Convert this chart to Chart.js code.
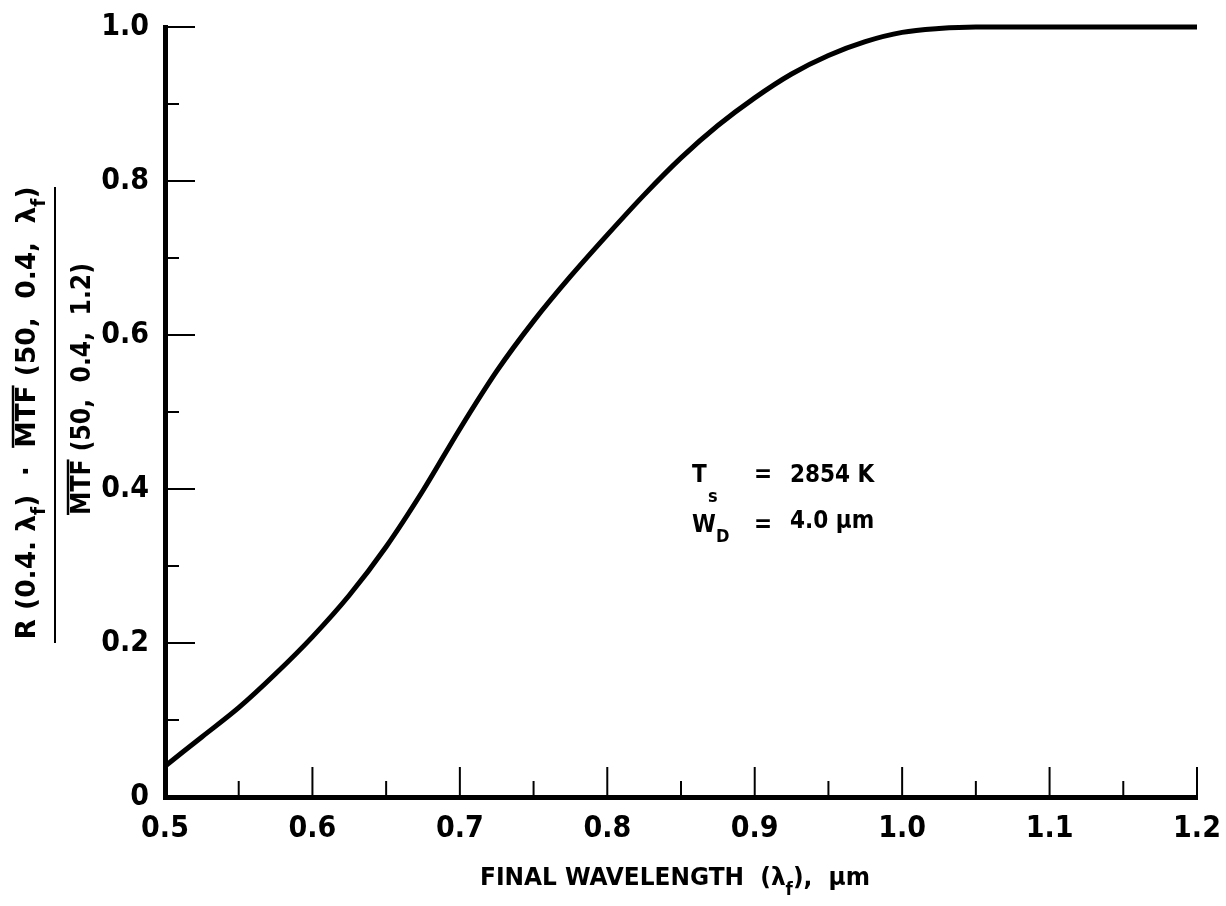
<!DOCTYPE html>
<html>
<head>
<meta charset="utf-8">
<script src="https://cdn.jsdelivr.net/npm/chart.js@4/dist/chart.umd.min.js"></script>
<style>
  html, body { margin: 0; padding: 0; background: #fff; }
  #wrap { width: 1226px; height: 906px; }
</style>
</head>
<body>
<div id="wrap"><canvas id="mtfChart" width="1226" height="906"></canvas></div>
<script>
// values
const wavelength = [0.5, 0.525, 0.55, 0.575, 0.6, 0.625, 0.65, 0.675, 0.7, 0.725, 0.75, 0.775, 0.8,
                    0.825, 0.85, 0.875, 0.9, 0.925, 0.95, 0.975, 1.0, 1.025, 1.05, 1.1, 1.15, 1.2];
const ratio = [0.040, 0.078, 0.116, 0.160, 0.208, 0.262, 0.325, 0.398, 0.478, 0.553, 0.618, 0.676, 0.730,
               0.782, 0.830, 0.872, 0.908, 0.939, 0.963, 0.981, 0.993, 0.998, 1.0, 1.0, 1.0, 1.0];

const xTickLabels = ['0.5', '0.6', '0.7', '0.8', '0.9', '1.0', '1.1', '1.2'];
const yTickLabels = ['0', '0.2', '0.4', '0.6', '0.8', '1.0'];

const FONT = "'Liberation Sans Narrow', 'DejaVu Sans Condensed', 'Roboto Condensed', sans-serif";

function findLabel(list, v) {
    const hit = list.find(l => Math.abs(parseFloat(l) - v) < 1e-6);
    return hit === undefined ? '' : hit;
}

// draw a run of text pieces (subscripts / overlines) centred at 0, stretched to targetLen
function drawRuns(ctx, runs, size, targetLen) {
    const subSize = Math.round(size * 0.72);
    let total = 0;
    runs.forEach(r => {
        ctx.font = 'bold ' + (r.sub ? subSize : size) + 'px ' + FONT;
        r.w = ctx.measureText(r.t).width;
        total += r.w;
    });
    const s = targetLen / total;
    ctx.save();
    ctx.scale(s, 1);
    let x = -total / 2;
    ctx.textBaseline = 'alphabetic';
    ctx.textAlign = 'left';
    runs.forEach(r => {
        ctx.font = 'bold ' + (r.sub ? subSize : size) + 'px ' + FONT;
        ctx.fillText(r.t, x, r.sub ? size * 0.38 : 0);
        if (r.over) {
            ctx.fillRect(x, -size * 0.86, r.w, 2.5);
        }
        x += r.w;
    });
    ctx.restore();
}

const tickMarks = {
    id: 'tickMarks',
    afterDatasetsDraw(chart) {
        const ctx = chart.ctx;
        const xs = chart.scales.x, ys = chart.scales.y;
        const area = chart.chartArea;
        ctx.save();
        ctx.strokeStyle = '#000';
        ctx.lineWidth = 2;
        xs.ticks.forEach(t => {
            const px = xs.getPixelForValue(t.value);
            const len = findLabel(xTickLabels, t.value) ? 30 : 16;
            ctx.beginPath();
            ctx.moveTo(px, area.bottom);
            ctx.lineTo(px, area.bottom - len);
            ctx.stroke();
        });
        ys.ticks.forEach(t => {
            const py = ys.getPixelForValue(t.value);
            const len = findLabel(yTickLabels, t.value) ? 30 : 14;
            ctx.beginPath();
            ctx.moveTo(area.left, py);
            ctx.lineTo(area.left + len, py);
            ctx.stroke();
        });
        ctx.restore();
    }
};

const titles = {
    id: 'titles',
    afterDraw(chart) {
        const ctx = chart.ctx;
        ctx.save();
        ctx.fillStyle = '#000';

        // x axis title
        ctx.save();
        ctx.translate(675, 885);
        drawRuns(ctx, [
            { t: 'FINAL WAVELENGTH  (λ' }, { t: 'f', sub: true }, { t: '),  μm' }
        ], 25, 390);
        ctx.restore();

        // y axis title: numerator
        ctx.save();
        ctx.translate(35, 413);
        ctx.rotate(-Math.PI / 2);
        drawRuns(ctx, [
            { t: 'R (0.4. λ' }, { t: 'f', sub: true }, { t: ')  ·  ' },
            { t: 'MTF', over: true }, { t: ' (50,  0.4,  λ' }, { t: 'f', sub: true }, { t: ')' }
        ], 27, 453);
        ctx.restore();

        // fraction bar
        ctx.fillRect(54, 187, 2, 456);

        // denominator
        ctx.save();
        ctx.translate(90, 389);
        ctx.rotate(-Math.PI / 2);
        drawRuns(ctx, [
            { t: 'MTF', over: true }, { t: ' (50,  0.4,  1.2)' }
        ], 27, 252);
        ctx.restore();

        // annotation
        ctx.font = 'bold 24px ' + FONT;
        ctx.textBaseline = 'alphabetic';
        ctx.fillText('T', 692, 482);
        ctx.fillText('W', 692, 532);
        ctx.font = 'bold 18px ' + FONT;
        ctx.fillText('s', 708, 502);
        ctx.fillText('D', 716, 542);
        ctx.font = 'bold 24px ' + FONT;
        ctx.fillText('=', 754, 482);
        ctx.fillText('=', 754, 532);
        ctx.fillText('2854 K', 790, 482);
        ctx.fillText('4.0 μm', 790, 528);

        ctx.restore();
    }
};

new Chart(document.getElementById('mtfChart'), {
    type: 'line',
    data: {
        datasets: [{
            data: wavelength.map((w, i) => ({ x: w, y: ratio[i] })),
            borderColor: '#000',
            borderWidth: 5,
            pointRadius: 0,
            cubicInterpolationMode: 'monotone',
            clip: false
        }]
    },
    options: {
        responsive: false,
        animation: false,
        layout: { padding: { top: 27, right: 29, left: 0, bottom: 0 } },
        plugins: { legend: { display: false }, tooltip: { enabled: false } },
        scales: {
            x: {
                type: 'linear',
                min: 0.5,
                max: 1.2,
                afterFit: s => { s.height = 109; s.paddingLeft = 0; s.paddingRight = 0; },
                border: { display: true, width: 5, color: '#000' },
                grid: { display: false, drawTicks: false },
                ticks: {
                    stepSize: 0.05,
                    autoSkip: false,
                    maxRotation: 0,
                    padding: 14,
                    color: '#000',
                    font: { family: FONT, size: 30, weight: 'bold' },
                    callback: v => findLabel(xTickLabels, v)
                }
            },
            y: {
                min: 0,
                max: 1,
                afterFit: s => { s.width = 165; s.paddingTop = 0; s.paddingBottom = 0; },
                border: { display: true, width: 5, color: '#000' },
                grid: { display: false, drawTicks: false },
                ticks: {
                    stepSize: 0.1,
                    autoSkip: false,
                    padding: 16,
                    color: '#000',
                    font: { family: FONT, size: 30, weight: 'bold' },
                    callback: v => findLabel(yTickLabels, v)
                }
            }
        }
    },
    plugins: [tickMarks, titles]
});
</script>
</body>
</html>
